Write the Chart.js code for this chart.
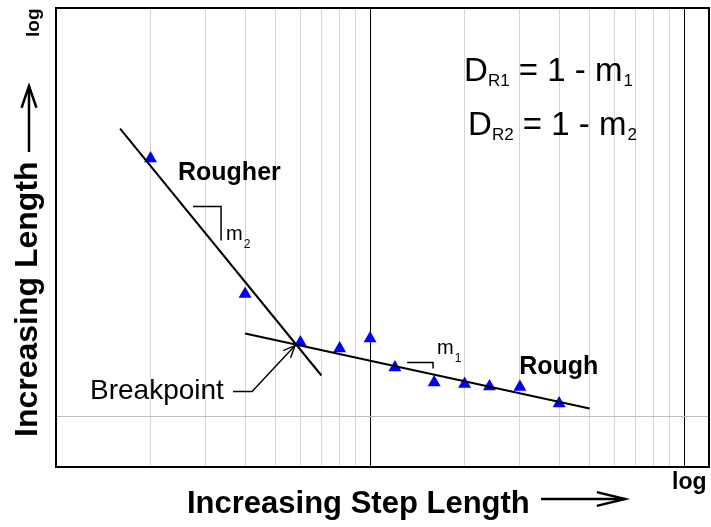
<!DOCTYPE html>
<html>
<head>
<title>Increasing Length vs Increasing Step Length</title>
<script src="https://cdn.jsdelivr.net/npm/chart.js"></script>
<style>
  body { margin: 0; background: #fff; }
  #wrap { width: 711px; height: 527px; }
</style>
</head>
<body>
<div id="wrap"><canvas id="myChart"></canvas></div>
<script>
// measured points (log-log)
const stepLengths = [2, 4, 6, 8, 10, 12, 16, 20, 24, 30, 40];
const lengths = [6.63, 2.455, 1.72, 1.646, 1.772, 1.432, 1.283, 1.269, 1.246, 1.241, 1.10];

// fitted lines, end points
const rougherFitX = [1.6, 7];
const rougherFitY = [8.26, 1.35];
const roughFitX = [4, 50];
const roughFitY = [1.838, 1.06];

// grid
const xGridTicks = [1, 2, 3, 4, 5, 6, 7, 8, 9, 10, 20, 30, 40, 50, 60, 70, 80, 90, 100];
const yGridTicks = [1];
const xRange = [1, 120];
const yRange = [0.69, 20];

const FONT = '"Liberation Sans", Arial, Helvetica, sans-serif';

function toPoints(xs, ys) {
    return xs.map((x, i) => ({ x: x, y: ys[i] }));
}

function chevron(ctx, tipX, tipY, fromX, fromY, len, spread) {
    const a = Math.atan2(tipY - fromY, tipX - fromX);
    ctx.beginPath();
    ctx.moveTo(tipX - len * Math.cos(a - spread), tipY - len * Math.sin(a - spread));
    ctx.lineTo(tipX, tipY);
    ctx.lineTo(tipX - len * Math.cos(a + spread), tipY - len * Math.sin(a + spread));
    ctx.stroke();
}

function drawFormula(ctx, x, y, sub, last) {
    ctx.font = '33px ' + FONT;
    ctx.fillText('D', x, y);
    x += ctx.measureText('D').width;
    ctx.font = '17px ' + FONT;
    ctx.fillText(sub, x, y + 5);
    x += ctx.measureText(sub).width;
    ctx.font = '33px ' + FONT;
    ctx.fillText(' = 1 - m', x, y);
    x += ctx.measureText(' = 1 - m').width;
    ctx.font = '17px ' + FONT;
    ctx.fillText(last, x + 1, y + 5);
}

const annotations = {
    id: 'annotations',
    afterDatasetsDraw(chart) {
        const ctx = chart.ctx;
        const a = chart.chartArea;
        const X = v => chart.scales.x.getPixelForValue(v);
        const Y = v => chart.scales.y.getPixelForValue(v);

        ctx.save();
        ctx.fillStyle = '#000';
        ctx.strokeStyle = '#000';
        ctx.textBaseline = 'alphabetic';
        ctx.textAlign = 'left';

        // frame
        ctx.lineWidth = 2;
        ctx.strokeRect(a.left, a.top, a.right - a.left, a.bottom - a.top);

        // labels inside the plot
        ctx.font = 'bold 25px ' + FONT;
        ctx.fillText('Rougher', X(2.446), Y(5.645));
        ctx.fillText('Rough', X(29.83), Y(1.36));

        ctx.font = '28px ' + FONT;
        ctx.fillText('Breakpoint', X(1.283), Y(1.133));

        drawFormula(ctx, X(19.92), Y(11.75), 'R1', '1');
        drawFormula(ctx, X(20.51), Y(7.85), 'R2', '2');

        // slope brackets
        ctx.lineWidth = 1.5;
        ctx.beginPath();
        ctx.moveTo(X(2.731), Y(4.665));
        ctx.lineTo(X(3.354), Y(4.665));
        ctx.lineTo(X(3.354), Y(3.636));
        ctx.stroke();
        ctx.beginPath();
        ctx.moveTo(X(13.12), Y(1.486));
        ctx.lineTo(X(15.87), Y(1.486));
        ctx.lineTo(X(15.87), Y(1.422));
        ctx.stroke();

        ctx.font = '20px ' + FONT;
        let mx = X(3.478), my = Y(3.636);
        ctx.fillText('m', mx, my);
        let mw = ctx.measureText('m').width;
        ctx.font = '12px ' + FONT;
        ctx.fillText('2', mx + mw + 1, my + 8);

        ctx.font = '20px ' + FONT;
        mx = X(16.35); my = Y(1.576);
        ctx.fillText('m', mx, my);
        mw = ctx.measureText('m').width;
        ctx.font = '12px ' + FONT;
        ctx.fillText('1', mx + mw + 1, my + 8);

        // breakpoint leader
        ctx.lineWidth = 1.4;
        const bx0 = X(3.662), bx1 = X(4.21), by0 = Y(1.201);
        const tx = X(5.77), ty = Y(1.683);
        ctx.beginPath();
        ctx.moveTo(bx0, by0);
        ctx.lineTo(bx1, by0);
        ctx.lineTo(tx, ty);
        ctx.stroke();
        chevron(ctx, tx, ty, bx1, by0, 13, 0.4);

        // x axis title
        ctx.font = 'bold 31px ' + FONT;
        ctx.fillText('Increasing Step Length', 187, 513);
        ctx.lineWidth = 2.5;
        ctx.beginPath();
        ctx.moveTo(541, 499);
        ctx.lineTo(625, 499);
        ctx.stroke();
        chevron(ctx, 625, 499, 541, 499, 29, 0.24);
        ctx.font = 'bold 23px ' + FONT;
        ctx.fillText('log', 672, 489);

        // y axis title
        ctx.save();
        ctx.translate(37, 437);
        ctx.rotate(-Math.PI / 2);
        ctx.font = 'bold 32px ' + FONT;
        ctx.fillText('Increasing Length', 0, 0);
        ctx.restore();
        ctx.beginPath();
        ctx.moveTo(29, 152);
        ctx.lineTo(29, 86);
        ctx.stroke();
        chevron(ctx, 29, 86, 29, 152, 23, 0.33);
        ctx.save();
        ctx.translate(39, 37);
        ctx.rotate(-Math.PI / 2);
        ctx.font = 'bold 19px ' + FONT;
        ctx.fillText('log', 0, 0);
        ctx.restore();

        ctx.restore();
    }
};

const ctx = document.getElementById('myChart').getContext('2d');
const myChart = new Chart(ctx, {
    type: 'scatter',
    data: {
        datasets: [{
            label: 'Rougher fit',
            data: toPoints(rougherFitX, rougherFitY),
            showLine: true,
            borderColor: '#000',
            borderWidth: 2,
            pointRadius: 0
        }, {
            label: 'Rough fit',
            data: toPoints(roughFitX, roughFitY),
            showLine: true,
            borderColor: '#000',
            borderWidth: 2,
            pointRadius: 0
        }, {
            label: 'Measured',
            data: toPoints(stepLengths, lengths),
            pointStyle: 'triangle',
            pointRadius: 7.5,
            backgroundColor: '#0000ff',
            borderColor: '#0000ff',
            borderWidth: 0
        }]
    },
    options: {
        responsive: true,
        maintainAspectRatio: false,
        animation: false,
        layout: { autoPadding: false, padding: { left: 56, top: 8, right: 2, bottom: 60 } },
        plugins: {
            legend: { display: false },
            tooltip: { enabled: false }
        },
        scales: {
            x: {
                type: 'logarithmic',
                min: xRange[0],
                max: xRange[1],
                afterBuildTicks: s => { s.ticks = xGridTicks.map(v => ({ value: v })); },
                ticks: { display: false },
                border: { display: false },
                grid: {
                    drawTicks: false,
                    lineWidth: 1,
                    color: c => (c.tick && (c.tick.value === 10 || c.tick.value === 100)) ? '#000' : '#d4d4d4'
                }
            },
            y: {
                type: 'logarithmic',
                min: yRange[0],
                max: yRange[1],
                afterBuildTicks: s => { s.ticks = yGridTicks.map(v => ({ value: v })); },
                ticks: { display: false },
                border: { display: false },
                grid: { drawTicks: false, lineWidth: 1, color: '#bdbdbd' }
            }
        }
    },
    plugins: [annotations]
});
</script>
</body>
</html>
